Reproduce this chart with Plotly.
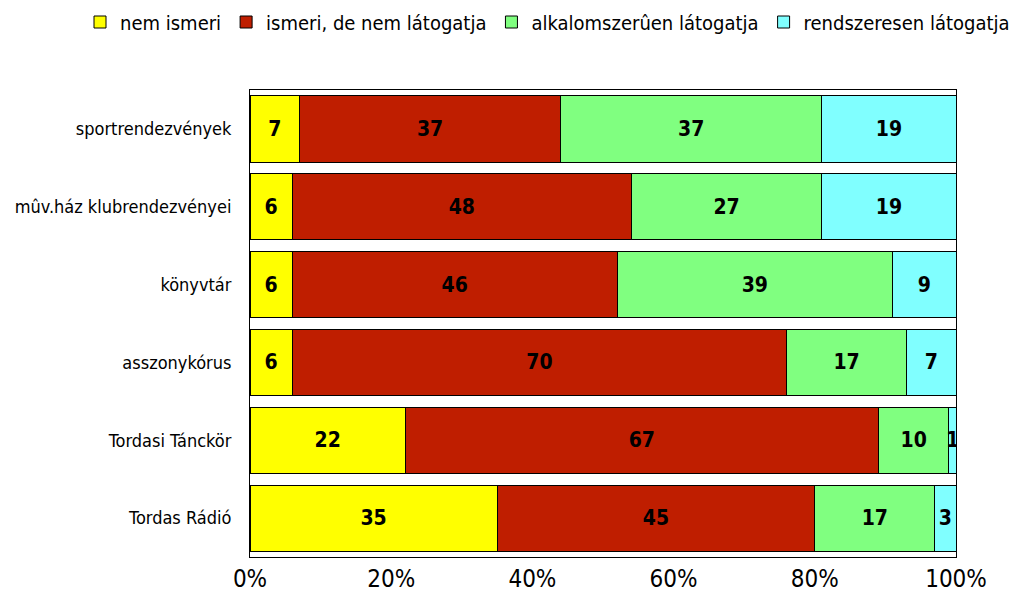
import plotly.graph_objects as go

categories = ["sportrendezvények", "mûv.ház klubrendezvényei", "könyvtár",
              "asszonykórus", "Tordasi Tánckör", "Tordas Rádió"]
series_names = ["nem ismeri", "ismeri, de nem látogatja",
                "alkalomszerûen látogatja", "rendszeresen látogatja"]
nem_ismeri = [7, 6, 6, 6, 22, 35]
ismeri_nem = [37, 48, 46, 70, 67, 45]
alkalom = [37, 27, 39, 17, 10, 17]
rendszeres = [19, 19, 9, 7, 1, 3]
colors = ["#FFFF00", "#BF1E00", "#80FF80", "#80FFFF"]
tick_vals = [0, 20, 40, 60, 80, 100]
tick_text = ["0%", "20%", "40%", "60%", "80%", "100%"]

FONT = "DejaVu Sans Condensed, Liberation Sans Narrow, sans-serif"

fig = go.Figure()
for name, vals, col in zip(series_names, [nem_ismeri, ismeri_nem, alkalom, rendszeres], colors):
    fig.add_trace(go.Bar(
        y=categories, x=vals, name=name, orientation="h",
        marker=dict(color=col, line=dict(color="black", width=1)),
        text=[str(v) for v in vals], textposition="inside",
        insidetextanchor="middle", textangle=0, constraintext="none",
        textfont=dict(family=FONT, size=21, color="black", weight="bold"),
        cliponaxis=True,
    ))

PW, PH = 706, 467
fig.update_layout(
    barmode="stack", bargap=0.15,
    width=1015, height=591,
    margin=dict(l=242, r=67, t=82, b=42, autoexpand=False),
    paper_bgcolor="white", plot_bgcolor="white",
    font=dict(family=FONT, color="black"),
    showlegend=True,
    legend=dict(orientation="h", x=(72 - 242) / PW, xanchor="left",
                y=1 + (82 - 14) / PH, yanchor="middle",
                font=dict(family=FONT, size=20), traceorder="normal",
                itemwidth=30, tracegroupgap=0),
    xaxis=dict(range=[0, 100], tickvals=tick_vals, ticktext=tick_text,
               showgrid=False, zeroline=False, showline=True, linecolor="black",
               linewidth=1, mirror=True, ticks="", tickfont=dict(family=FONT, size=24)),
    yaxis=dict(categoryorder="array", categoryarray=categories[::-1],
               showgrid=False, showline=True, linecolor="black", linewidth=1,
               mirror=True, ticks="", ticklabelstandoff=14,
               tickfont=dict(family=FONT, size=18)),
)

fig.write_html("out.html")
